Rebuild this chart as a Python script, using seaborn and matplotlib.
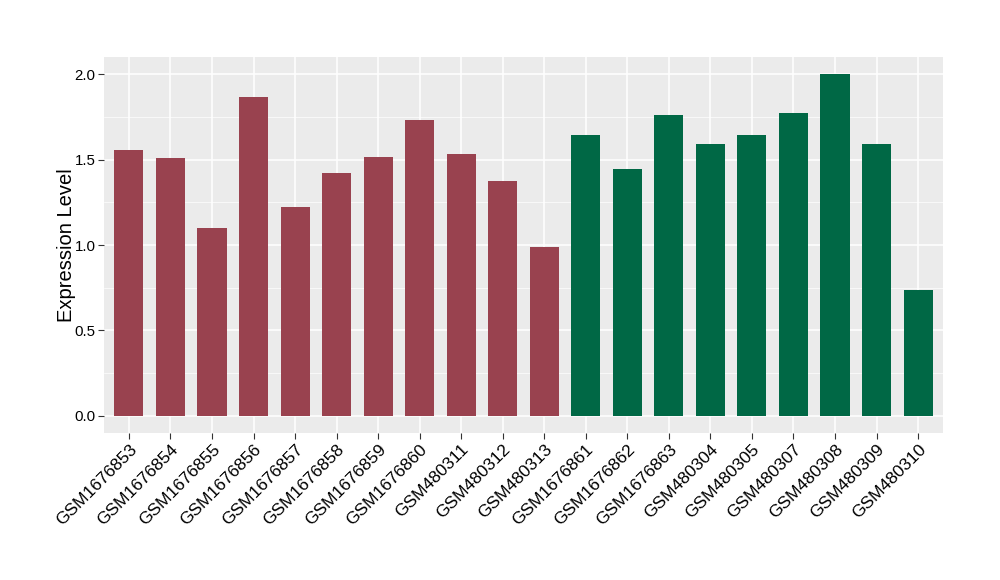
import pandas as pd
import matplotlib
matplotlib.use("Agg")
import matplotlib.pyplot as plt
import seaborn as sns
from matplotlib.ticker import MultipleLocator

# sample names and expression values
samples = ["GSM1676853", "GSM1676854", "GSM1676855", "GSM1676856", "GSM1676857",
           "GSM1676858", "GSM1676859", "GSM1676860", "GSM480311", "GSM480312",
           "GSM480313", "GSM1676861", "GSM1676862", "GSM1676863", "GSM480304",
           "GSM480305", "GSM480307", "GSM480308", "GSM480309", "GSM480310"]
values = [1.556, 1.509, 1.099, 1.866, 1.222, 1.421, 1.515, 1.731, 1.532, 1.374,
          0.988, 1.643, 1.444, 1.760, 1.591, 1.643, 1.772, 2.0, 1.591, 0.737]
groups = ["A"] * 11 + ["B"] * 9
colors = {"A": "#99424F", "B": "#006845"}

df = pd.DataFrame({"sample": samples, "value": values, "group": groups})

sns.set_theme(style="darkgrid", rc={"axes.facecolor": "#EBEBEB", "grid.color": "white"})
plt.rcParams["font.family"] = ["Liberation Sans", "DejaVu Sans"]

fig = plt.figure(figsize=(10, 5.8), dpi=100)
ax = fig.add_axes([0.104, 0.2534, 0.839, 0.6483])

sns.barplot(data=df, x="sample", y="value", hue="group", palette=colors,
            dodge=False, width=0.7, saturation=1, legend=False,
            linewidth=0, edgecolor="none", ax=ax)

ax.set_xlim(-0.6, len(samples) - 0.4)
ax.set_ylim(-0.1, 2.1)
ax.yaxis.set_major_locator(MultipleLocator(0.5))
ax.yaxis.set_minor_locator(MultipleLocator(0.25))
ax.grid(which="major", color="white", linewidth=1.1)
ax.grid(which="minor", axis="y", color="white", linewidth=0.5)
ax.set_axisbelow(True)
for s in ax.spines.values():
    s.set_visible(False)

ax.set_xlabel("")
ax.set_ylabel("Expression Level", fontsize=14.5, color="black", labelpad=-1)
ax.tick_params(axis="both", which="major", length=4, width=0.8, color="#333333",
               bottom=True, left=True)
ax.tick_params(axis="y", which="minor", length=0, left=False)
ax.tick_params(axis="y", labelsize=10.8, labelcolor="black", pad=2)
ax.tick_params(axis="x", labelsize=12.5, labelcolor="black", pad=2)
plt.setp(ax.get_xticklabels(), rotation=45, ha="right", rotation_mode="anchor")

fig.savefig("out.png", dpi=100)
